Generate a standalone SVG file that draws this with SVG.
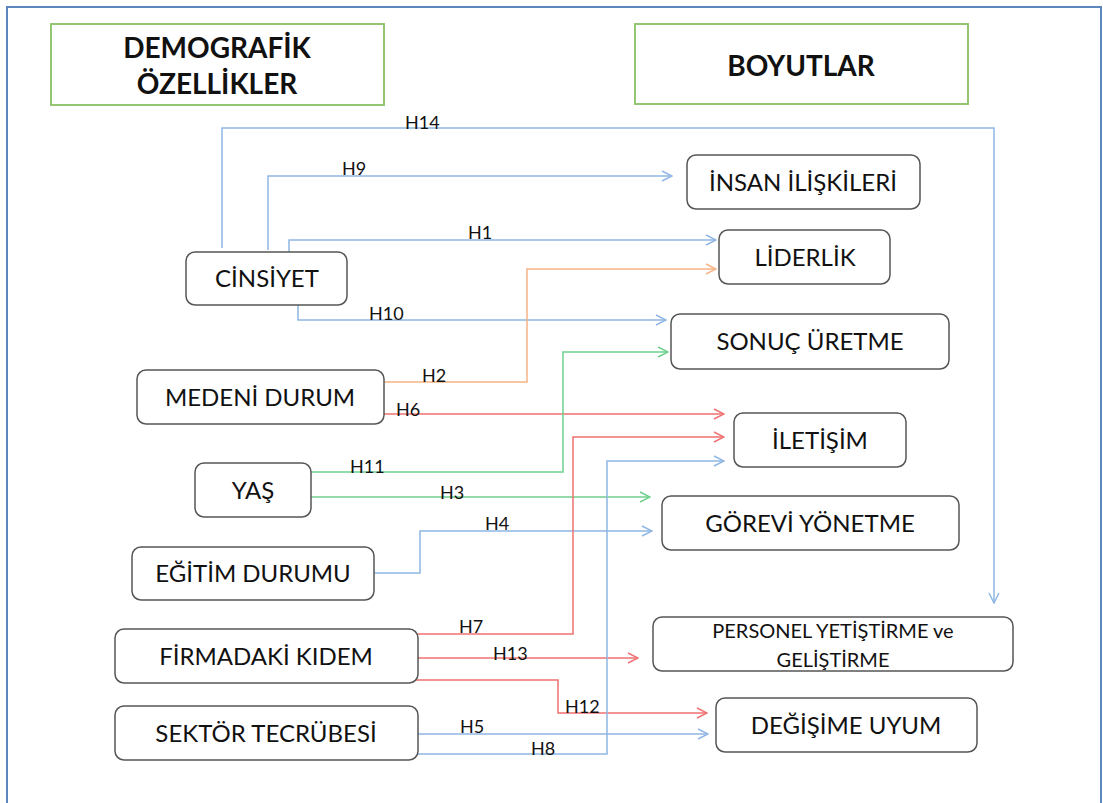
<svg xmlns="http://www.w3.org/2000/svg" width="1103" height="803" viewBox="0 0 1103 803">
  <style>
    .frame { fill: #ffffff; stroke: #5b87bd; stroke-width: 2; }
    .head { fill: #ffffff; stroke: #93c572; stroke-width: 2; }
    .head-text { font-family: Lato, "Open Sans", sans-serif; font-weight: bold; font-size: 28px; fill: #111; text-anchor: middle; }
    .node { fill: #ffffff; stroke: #555555; stroke-width: 1.5; }
    .node-text { font-family: Lato, "Open Sans", sans-serif; font-size: 24px; fill: #111; text-anchor: middle; }
    .small-text { font-size: 20px; }
    .lbl { font-family: Lato, "Open Sans", sans-serif; font-size: 18px; fill: #111; }
    .c { fill: none; stroke-width: 1.5; }
    .blue { stroke: #8fb6e4; }
    .orange { stroke: #f8b487; }
    .green { stroke: #6fd08e; }
    .red { stroke: #f07272; }
  </style>
  <defs>
    <marker id="ah-blue" viewBox="0 0 12 12" refX="11" refY="6" markerWidth="12" markerHeight="12" markerUnits="userSpaceOnUse" orient="auto">
      <path d="M1,1 L11,6 L1,11" fill="none" stroke="#8fb6e4" stroke-width="1.5"/>
    </marker>
    <marker id="ah-orange" viewBox="0 0 12 12" refX="11" refY="6" markerWidth="12" markerHeight="12" markerUnits="userSpaceOnUse" orient="auto">
      <path d="M1,1 L11,6 L1,11" fill="none" stroke="#f8b487" stroke-width="1.5"/>
    </marker>
    <marker id="ah-green" viewBox="0 0 12 12" refX="11" refY="6" markerWidth="12" markerHeight="12" markerUnits="userSpaceOnUse" orient="auto">
      <path d="M1,1 L11,6 L1,11" fill="none" stroke="#6fd08e" stroke-width="1.5"/>
    </marker>
    <marker id="ah-red" viewBox="0 0 12 12" refX="11" refY="6" markerWidth="12" markerHeight="12" markerUnits="userSpaceOnUse" orient="auto">
      <path d="M1,1 L11,6 L1,11" fill="none" stroke="#f07272" stroke-width="1.5"/>
    </marker>
  </defs>

  <rect width="1103" height="803" fill="#ffffff"/>
  <rect class="frame" x="7" y="7" width="1094" height="820"/>

  <!-- column headers -->
  <g id="header-demografik">
    <rect class="head" x="51" y="24" width="333" height="81"/>
    <text class="head-text" x="217" y="58">DEMOGRAFİK</text>
    <text class="head-text" x="217" y="94">ÖZELLİKLER</text>
  </g>
  <g id="header-boyutlar">
    <rect class="head" x="635" y="24" width="333" height="80"/>
    <text class="head-text" x="801" y="76">BOYUTLAR</text>
  </g>

  <!-- connectors -->
  <g id="connectors">
    <path class="c blue" d="M222,248 V128 H994 V603" marker-end="url(#ah-blue)"/>
    <path class="c blue" d="M268,250 V176 H672" marker-end="url(#ah-blue)"/>
    <path class="c blue" d="M289,252 V240 H716" marker-end="url(#ah-blue)"/>
    <path class="c blue" d="M298,305 V320 H666" marker-end="url(#ah-blue)"/>
    <path class="c orange" d="M384,382 H527 V269 H716" marker-end="url(#ah-orange)"/>
    <path class="c red" d="M384,414 H724" marker-end="url(#ah-red)"/>
    <path class="c green" d="M311,472 H563 V352 H668" marker-end="url(#ah-green)"/>
    <path class="c green" d="M311,497 H650" marker-end="url(#ah-green)"/>
    <path class="c blue" d="M374,573 H420 V531 H652" marker-end="url(#ah-blue)"/>
    <path class="c red" d="M418,634 H573 V437 H724" marker-end="url(#ah-red)"/>
    <path class="c red" d="M418,658 H638" marker-end="url(#ah-red)"/>
    <path class="c red" d="M412,680 H558 V713 H707" marker-end="url(#ah-red)"/>
    <path class="c blue" d="M418,734 H708" marker-end="url(#ah-blue)"/>
    <path class="c blue" d="M418,754 H607 V461 H724" marker-end="url(#ah-blue)"/>

    <text class="lbl" x="405" y="129">H14</text>
    <text class="lbl" x="342" y="175">H9</text>
    <text class="lbl" x="468" y="239">H1</text>
    <text class="lbl" x="369" y="320">H10</text>
    <text class="lbl" x="422" y="382">H2</text>
    <text class="lbl" x="396" y="416">H6</text>
    <text class="lbl" x="350" y="473">H11</text>
    <text class="lbl" x="440" y="499">H3</text>
    <text class="lbl" x="485" y="530">H4</text>
    <text class="lbl" x="459" y="633">H7</text>
    <text class="lbl" x="493" y="660">H13</text>
    <text class="lbl" x="565" y="713">H12</text>
    <text class="lbl" x="460" y="733">H5</text>
    <text class="lbl" x="531" y="755">H8</text>
  </g>

  <!-- demographic variables -->
  <g id="cinsiyet">
    <rect class="node" x="186" y="252" width="161" height="53" rx="9"/>
    <text class="node-text" x="267" y="287">CİNSİYET</text>
  </g>
  <g id="medeni-durum">
    <rect class="node" x="137" y="370" width="247" height="54" rx="9"/>
    <text class="node-text" x="260" y="406">MEDENİ DURUM</text>
  </g>
  <g id="yas">
    <rect class="node" x="195" y="463" width="116" height="54" rx="9"/>
    <text class="node-text" x="253" y="499">YAŞ</text>
  </g>
  <g id="egitim-durumu">
    <rect class="node" x="132" y="547" width="242" height="53" rx="9"/>
    <text class="node-text" x="253" y="582">EĞİTİM DURUMU</text>
  </g>
  <g id="firmadaki-kidem">
    <rect class="node" x="115" y="629" width="303" height="54" rx="9"/>
    <text class="node-text" x="266" y="665">FİRMADAKİ KIDEM</text>
  </g>
  <g id="sektor-tecrubesi">
    <rect class="node" x="115" y="706" width="303" height="54" rx="9"/>
    <text class="node-text" x="266" y="742">SEKTÖR TECRÜBESİ</text>
  </g>

  <!-- dimensions -->
  <g id="insan-iliskileri">
    <rect class="node" x="687" y="155" width="233" height="54" rx="9"/>
    <text class="node-text" x="803" y="191">İNSAN İLİŞKİLERİ</text>
  </g>
  <g id="liderlik">
    <rect class="node" x="719" y="230" width="171" height="54" rx="9"/>
    <text class="node-text" x="805" y="266">LİDERLİK</text>
  </g>
  <g id="sonuc-uretme">
    <rect class="node" x="671" y="314" width="278" height="55" rx="9"/>
    <text class="node-text" x="810" y="350">SONUÇ ÜRETME</text>
  </g>
  <g id="iletisim">
    <rect class="node" x="734" y="413" width="172" height="54" rx="9"/>
    <text class="node-text" x="820" y="449">İLETİŞİM</text>
  </g>
  <g id="gorevi-yonetme">
    <rect class="node" x="662" y="496" width="297" height="54" rx="9"/>
    <text class="node-text" x="810" y="532">GÖREVİ YÖNETME</text>
  </g>
  <g id="personel-yetistirme">
    <rect class="node" x="653" y="617" width="360" height="54" rx="9"/>
    <text class="node-text small-text" x="833" y="638">PERSONEL YETİŞTİRME ve</text>
    <text class="node-text small-text" x="833" y="667">GELİŞTİRME</text>
  </g>
  <g id="degisime-uyum">
    <rect class="node" x="716" y="698" width="261" height="54" rx="9"/>
    <text class="node-text" x="846" y="734">DEĞİŞİME UYUM</text>
  </g>
</svg>
